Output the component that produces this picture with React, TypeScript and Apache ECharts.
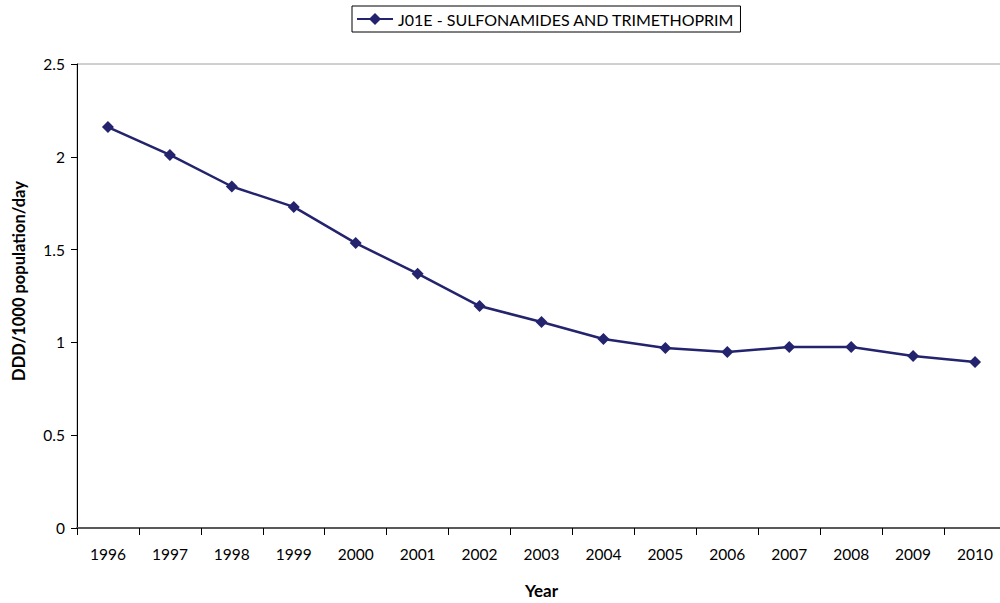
import React, { useEffect, useRef } from "react";
import * as echarts from "echarts";

const years = ["1996","1997","1998","1999","2000","2001","2002","2003","2004","2005","2006","2007","2008","2009","2010"];
const values = [2.16, 2.01, 1.84, 1.73, 1.535, 1.37, 1.196, 1.11, 1.018, 0.97, 0.948, 0.975, 0.975, 0.927, 0.894];
const seriesName = "J01E - SULFONAMIDES AND TRIMETHOPRIM";
const yTicks = [0, 0.5, 1, 1.5, 2, 2.5];

export default function App() {
  const ref = useRef<HTMLDivElement>(null);
  useEffect(() => {
    if (!ref.current) return;
    const chart = echarts.init(ref.current, null, { renderer: "svg" });
    const font = "Lato, 'Liberation Sans', sans-serif";
    chart.setOption({
      animation: false,
      backgroundColor: "#ffffff",
      textStyle: { fontFamily: font },
      legend: {
        top: 6,
        left: 352,
        data: [{ name: seriesName }],
        itemWidth: 36,
        itemHeight: 15,
        itemGap: 4,
        borderColor: "#000",
        borderWidth: 1,
        padding: [5, 6, 5, 4],
        textStyle: { fontFamily: font, fontSize: 16, color: "#000" },
      },
      grid: {
        left: 77, width: 929, top: 64, height: 464,
        outerBoundsMode: "none", containLabel: false,
        show: true, borderColor: "#a0a0a0", borderWidth: 1, backgroundColor: "transparent",
      },
      xAxis: {
        type: "category",
        data: years,
        boundaryGap: true,
        name: "Year",
        nameLocation: "middle",
        nameGap: 54,
        nameTextStyle: { fontFamily: font, fontSize: 17, fontWeight: "bold", color: "#000" },
        axisLine: { lineStyle: { color: "#595959", width: 2 } },
        axisTick: { show: true, length: 7, lineStyle: { color: "#000" }, alignWithLabel: false },
        axisLabel: { fontFamily: font, fontSize: 15.5, color: "#000", margin: 18 },
        splitLine: { show: false },
      },
      yAxis: {
        type: "value",
        min: 0,
        max: 2.5,
        interval: 0.5,
        name: "DDD/1000 population/day",
        nameLocation: "middle",
        nameGap: 50,
        nameTextStyle: { fontFamily: font, fontSize: 16.5, fontWeight: "bold", color: "#000", padding: [0, 0, 0, 30] },
        axisLine: { show: true, lineStyle: { color: "#000", width: 1 } },
        axisTick: { show: true, length: 6, lineStyle: { color: "#000" } },
        axisLabel: { fontFamily: font, fontSize: 15.5, color: "#000", margin: 12, formatter: (v: number) => (yTicks.includes(v) ? String(v) : "") },
        splitLine: { show: false },
      },
      series: [
        {
          name: seriesName,
          type: "line",
          data: values,
          symbol: "diamond",
          symbolSize: 12,
          lineStyle: { color: "#23236e", width: 2.5 },
          itemStyle: { color: "#23236e" },
        },
      ],
    });
    return () => chart.dispose();
  }, []);
  return (
    <div style={{ width: 1000, height: 603, position: "fixed", left: 0, top: 0, overflow: "hidden" }}>
      <div ref={ref} style={{ width: 1000, height: 603, overflow: "hidden" }} />
    </div>
  );
}
